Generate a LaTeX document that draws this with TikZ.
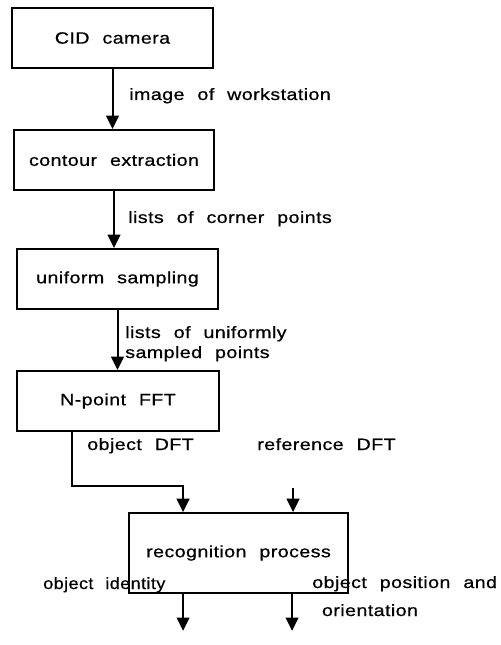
\documentclass[tikz,border=0pt]{standalone}
\usepackage{fontspec}
\setmainfont{Liberation Sans}[FakeStretch=1.2, WordSpace=2.2, LetterSpace=2.5, FakeBold=0.6]
\newfontfamily\narrowlbl{Liberation Sans}[FakeStretch=1.1, WordSpace=2.2, LetterSpace=2.5, FakeBold=0.6]
\usetikzlibrary{arrows.meta,calc}
\begin{document}
\begin{tikzpicture}[x=0.75pt,y=-0.75pt,
  every node/.style={font=\fontsize{12.3}{14}\selectfont},
  box/.style={draw,line width=1.4pt,inner sep=0pt},
  arr/.style={line width=1.5pt,-{Triangle[width=9.5pt,length=10pt]}},
  lbl/.style={anchor=base west,inner sep=0pt}]
\useasboundingbox (0,0) rectangle (500,645);
\node[box,minimum width=150.75pt,minimum height=45pt] (b1) at (112.5,38) {CID camera};
\node[box,minimum width=150pt,minimum height=45pt] (b2) at (114,160) {contour extraction};
\node[box,minimum width=150.75pt,minimum height=45pt] (b3) at (117.5,279) {uniform sampling};
\node[box,minimum width=151.5pt,minimum height=45pt] (b4) at (118,401) {N-point FFT};
\node[box,minimum width=164.25pt,minimum height=60pt] (b5) at (238.5,553) {recognition process};
\draw[arr] (b1.south) -- (b1.south |- b2.north);
\draw[arr] (b2.south) -- (b2.south |- b3.north);
\draw[arr] (b3.south) -- (b3.south |- b4.north);
\coordinate (s4) at ($(b4.south west)+(56,0)$);
\coordinate (t5a) at ($(b5.north west)+(55,0)$);
\coordinate (t5b) at ($(b5.north west)+(165,0)$);
\coordinate (r0) at ($(t5b)+(0,-24)$);
\coordinate (o1) at ($(b5.south west)+(55,0)$);
\coordinate (o2) at ($(b5.south west)+(164,0)$);
\coordinate (e1) at ($(o1)+(0,37)$);
\coordinate (e2) at ($(o2)+(0,37)$);
\draw[arr] (s4) -- ++(0,54) -| (t5a);
\draw[arr] (r0) -- (t5b);
\draw[arr] (o1) -- (e1);
\draw[arr] (o2) -- (e2);
\node[lbl] (l1) at (129,100) {image of workstation};
\node[lbl] (l2) at (128,223) {lists of corner points};
\node[lbl] (l3) at (125,338) {lists of uniformly};
\node[lbl] (l3b) at (125,358) {sampled points};
\node[lbl] (l4) at (87,450) {object DFT};
\node[lbl] (l5) at (257,450) {reference DFT};
\node[lbl,font=\narrowlbl\fontsize{12.3}{14}\selectfont] (l6) at (43,589) {object identity};
\node[lbl] (l7) at (312,588) {object position and};
\node[anchor=base,inner sep=0pt] (l7b) at (370,616) {orientation};
\end{tikzpicture}
\end{document}
